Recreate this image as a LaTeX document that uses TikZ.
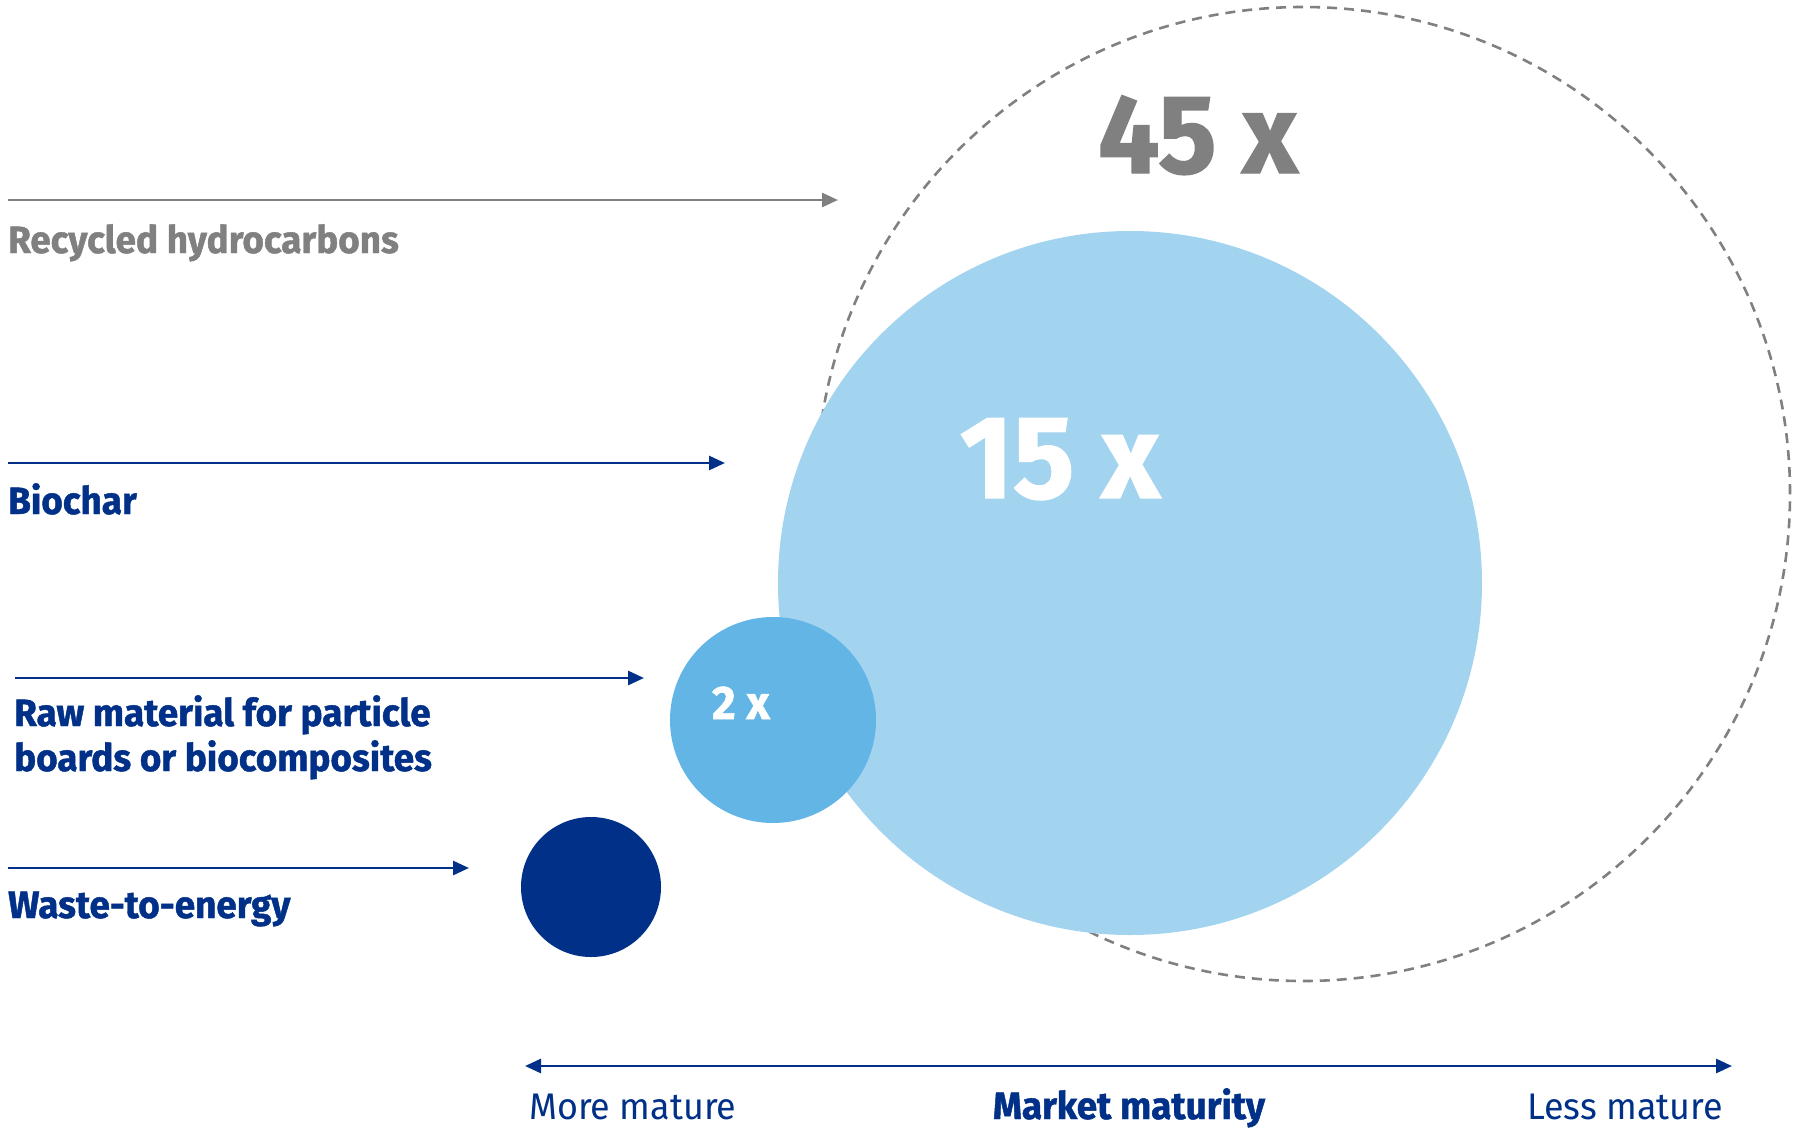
\documentclass[tikz,border=0pt]{standalone}
\usepackage{fontspec}
\setmainfont{Fira Sans}[FakeStretch=0.97,BoldFeatures={FakeBold=1.2}]
\usetikzlibrary{arrows.meta,positioning}
\definecolor{navy}{HTML}{003087}
\definecolor{skyblue}{HTML}{A2D3EF}
\definecolor{midblue}{HTML}{62B5E5}
\definecolor{greytxt}{HTML}{808080}
\tikzset{bubble/.style={circle,draw=none,inner sep=0pt}}
\tikzset{arrow/.style={draw,line width=2.8pt}}
\tikzset{usecase/.style={anchor=base west,inner sep=0pt,align=left,text=navy,font=\fontsize{38}{45}\selectfont\bfseries}}
\tikzset{factor/.style={anchor=base,inner sep=0pt,text=white,font=\fontsize{112}{112}\selectfont\bfseries}}
\tikzset{axistext/.style={anchor=base,inner sep=0pt,text=navy,font=\fontsize{37}{45}\selectfont}}

\begin{document}
\begin{tikzpicture}[x=1pt,y=-1pt,>={Triangle[length=16pt,width=14pt]}]
    \useasboundingbox (0,0) rectangle (1793,1127);

    % bubbles
    \node[bubble,draw=greytxt,line width=2.6pt,dash pattern=on 10pt off 7pt,minimum size=974pt] (c45) at (1303,494) {};
    \node[bubble,fill=skyblue,minimum size=704pt] (c15) at (1130,583) {};
    \node[bubble,fill=midblue,minimum size=206pt] (c2) at (773,720) {};
    \node[bubble,fill=navy,minimum size=140pt] (c1) at (591,887) {};

    \node[factor,text=greytxt] (f45) at (1198,173) {45 x};
    \node[factor,font=\fontsize{118}{118}\selectfont\bfseries] (f15) at (1060,498) {15 x};
    \node[factor,font=\fontsize{47}{47}\selectfont\bfseries] (f2) at (741,719) {2 x};

    % use cases
    \node[usecase,text=greytxt] (recycled) at (8,253) {Recycled hydrocarbons};
    \node[usecase] (biochar) at (8,514) {Biochar};
    \node[usecase] (raw) at (14,771) {Raw material for particle\\boards or biocomposites};
    \node[usecase] (waste) at (8,918) {Waste-to-energy};

    \coordinate (r0) at (8,200);   \coordinate (r1) at (838,200);
    \coordinate (b0) at (8,463);   \coordinate (b1) at (725,463);
    \coordinate (m0) at (15,678);  \coordinate (m1) at (644,678);
    \coordinate (w0) at (8,868);   \coordinate (w1) at (469,868);

        \path[arrow,->,greytxt] (r0) -- (r1);
        \path[arrow,->,navy] (b0) -- (b1);
        \path[arrow,->,navy] (m0) -- (m1);
        \path[arrow,->,navy] (w0) -- (w1);

    % maturity axis
    \coordinate (a0) at (525,1066); \coordinate (a1) at (1732,1066);
        \path[arrow,<->,navy] (a0) -- (a1);

    \node[axistext,anchor=base west] (more) at (529,1119) {More mature};
    \node[axistext,font=\fontsize{38}{45}\selectfont\bfseries] (market) at (1129,1119) {Market maturity};
    \node[axistext,anchor=base east] (less) at (1723,1119) {Less mature};
\end{tikzpicture}
\end{document}
